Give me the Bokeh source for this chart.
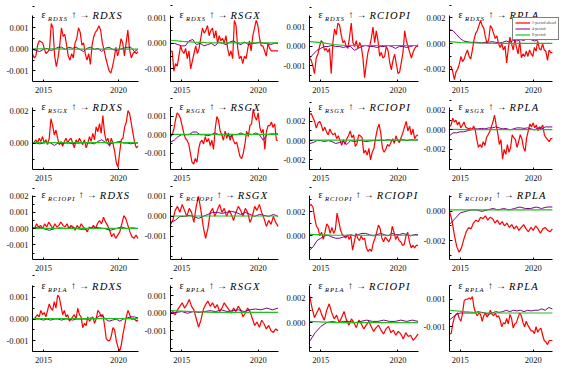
import numpy as np
from bokeh.plotting import figure
from bokeh.layouts import gridplot
from bokeh.models import Range1d, FixedTicker, NumeralTickFormatter, Label, Legend, LegendItem
from bokeh.embed import file_html
from bokeh.resources import INLINE

variables = ["RDXS", "RSGX", "RCIOPI", "RPLA"]
legend_labels = ["1-period ahead", "4-period", "8-period"]
x_tick_labels = [2015, 2020]
date_start, date_end = 2014.27, 2021.30

# values in units of 1e-3 ; row = shock, column = response
red11 = [-0.2,-0.4,-0.3,0.2,0.4,0.35,0.3,0.0,-0.2,-0.1,0.0,1.2,1.0,-0.3,-0.8,-0.4,0.2,1.0,0.6,0.7,0.2,-0.3,-0.5,-0.2,-0.4,0.3,0.5,1.0,0.8,0.2,0.3,-0.2,-0.5,-0.2,-0.7,0.2,0.6,0.8,0.9,1.1,0.9,0.3,0.0,-0.4,-0.7,-1.0,-1.1,-0.8,-0.4,0.1,-0.3,0.0,0.5,0.3,-0.3,0.3,0.9,0.0,-0.4,-0.2,-0.1,-0.2,-0.1]
pur11 = [0.0,-0.05,-0.1,0.0,0.05,-0.05,0.0,0.1,0.1,0.0,0.1,0.05,0.1,0.0,-0.1,0.05,0.1,0.0,0.05,-0.1,0.05,0.1,0.0,-0.05,0.0,0.05,0.1,0.1,-0.1,0.0]
grn11 = [0.03,0.02,0.02,0.01,0.01,0.01,0.01,0.01,0.01,0.01]

red12 = [-0.33,-0.3,-1.1,-0.8,-0.9,-0.5,-0.1,-0.3,-0.4,-0.2,-0.6,-0.3,-1.0,-0.7,-0.4,-0.1,-0.4,-0.2,0.2,0.6,0.4,0.5,0.7,0.3,0.5,0.6,0.2,0.5,0.0,0.3,0.1,0.2,0.0,0.3,-0.2,-0.5,-0.3,-0.6,0.9,0.7,-0.2,-0.6,-0.5,-0.8,-0.5,-0.6,-0.2,0.1,-0.3,0.3,0.6,0.9,0.7,0.2,-0.1,-0.1,-0.3,-0.5,0.0,-0.2,-0.3,-0.3,-0.3,-0.3,-0.3]
pur12 = [0.0,0.0,-0.05,-0.1,-0.1,0.1,0.15,-0.05,0.0,-0.1,-0.05,0.0,-0.1,0.05,0.0,-0.05,0.05,0.1,0.0,-0.05,0.05,-0.05,0.0,0.0,0.05,0.0,0.0,-0.05,0.0,0.0]
grn12 = [0.12,0.08,0.05,0.03,0.02,0.02,0.02,0.02,0.02,0.02]

red13 = [-0.6,-0.7,-1.0,-1.4,-0.6,-0.4,0.0,0.3,0.2,-0.2,-0.1,-0.3,-0.1,-1.4,0.2,0.9,0.6,1.2,1.1,0.6,0.2,0.3,0.0,-0.1,0.5,1.2,0.2,0.0,0.3,-0.1,0.2,0.0,-0.6,-1.6,-0.9,-0.3,0.0,0.4,1.0,0.2,0.8,0.3,-0.5,-0.3,-0.6,-0.5,0.0,-0.2,-0.8,-1.2,-0.7,-0.4,-0.9,-1.4,-1.3,-0.8,-0.3,0.8,0.3,0.0,-0.3,-0.6,-0.3,-0.1,0.0,0.1]
pur13 = [-0.6,-0.4,-0.2,-0.1,0.0,0.0,0.05,0.0,0.0,-0.05,0.0,0.0,-0.2,-0.1,0.0,0.05,0.0,0.0,-0.05,0.0,0.0,0.05,0.0,-0.1,0.0,0.0,-0.05,0.0,0.05,0.0]
grn13 = [0.25,0.2,0.1,0.05,0.05,0.05,0.05,0.05,0.05,0.05]

red14 = [-1.8,-1.8,-2.2,-2.8,-2.2,-2.0,-1.6,-1.0,-1.4,-1.2,-0.8,-0.5,-1.0,-1.2,-0.5,0.3,0.8,1.0,1.4,1.8,1.4,1.2,0.5,0.0,0.3,1.4,1.2,0.8,0.4,0.6,0.0,-0.3,0.0,-0.5,-0.2,-1.5,-0.4,0.5,0.0,-0.5,0.3,-0.3,-0.8,0.2,-1.1,-0.8,-1.0,-0.6,-1.0,-0.5,-0.8,-1.0,-0.3,-0.6,0.2,-0.4,-0.5,0.0,-0.5,-0.6,-1.3,-0.5,-0.7,-0.7]
pur14 = [1.1,1.0,0.7,0.4,0.2,0.15,0.1,0.1,0.1,0.05,0.1,0.1,0.15,0.1,0.05,0.1,0.2,0.1,0.25,0.2,0.3,0.25,0.4,0.3,0.2,0.3,0.4,0.3,0.35,0.5]
grn14 = [0.15,0.08,0.05,0.03,0.02,0.02,0.02,0.02,0.02,0.02]

red21 = [0.0,0.05,0.2,0.0,0.3,0.1,0.4,0.0,0.2,-0.1,0.3,1.5,1.1,0.5,0.8,0.3,-0.1,0.1,-0.2,0.1,0.3,0.0,0.2,0.3,0.0,-0.3,0.2,0.0,0.3,0.1,-0.1,0.2,-0.3,0.0,0.4,0.1,0.6,0.2,1.0,0.7,1.2,0.6,1.7,0.6,0.1,0.3,-0.2,0.3,0.0,-0.5,-1.2,-1.5,-0.6,0.2,0.3,1.0,1.3,2.0,1.8,1.2,0.6,0.0,-0.3,-0.2]
pur21 = [0.0,0.0,-0.05,0.0,0.05,0.0,-0.15,0.0,-0.05,0.0,0.0,-0.05,0.0,0.0,0.05,0.0,0.0,-0.05,0.1,0.2,0.05,-0.1,0.0,0.05,0.1,0.0,0.0,-0.05,0.0,0.0]
grn21 = [0.03,0.03,0.03,0.03,0.03,0.03]

red22 = [-0.1,0.0,0.3,0.8,1.2,1.1,0.9,0.5,0.1,-0.2,-0.3,-0.5,-1.0,-1.5,-1.6,-1.3,-1.5,-0.8,-0.4,-0.3,-0.5,-0.1,-0.4,-0.2,-0.6,-0.3,-0.8,0.3,1.0,0.8,0.2,0.0,-0.3,0.2,-0.2,0.1,-0.3,0.0,-0.3,-0.5,-0.4,-0.8,-1.2,-1.3,-1.0,-0.5,0.2,-0.1,0.5,0.6,1.4,1.0,0.8,1.2,0.4,0.1,0.3,-0.8,0.2,0.5,0.5,0.7,0.4,0.6,-0.3,-0.3]
pur22 = [-0.4,-0.3,-0.1,0.0,0.0,0.0,0.15,0.15,0.0,0.0,-0.05,0.0,0.1,0.0,0.0,0.05,-0.1,0.0,0.0,0.1,0.0,0.05,0.0,0.1,0.0,-0.3,0.0,0.05,0.05,0.05]
grn22 = [0.02,0.02,0.02,0.02,0.02,0.02]

red23 = [2.7,2.8,2.4,2.0,1.3,1.8,2.0,1.6,1.0,1.4,0.9,0.6,1.2,0.8,0.6,0.8,0.2,0.5,0.0,-0.5,0.1,-0.4,0.2,0.5,1.0,0.3,0.6,-0.6,-0.3,0.6,0.5,0.3,-1.3,-1.0,-1.5,-0.8,-2.0,-1.2,-0.8,0.3,1.2,1.7,0.8,-0.8,-1.2,-0.9,-0.4,-0.6,-0.2,0.2,-0.3,0.5,0.0,-0.2,0.3,0.8,1.4,2.0,1.0,1.5,0.6,1.2,0.2,0.5,0.6]
pur23 = [-0.3,-0.2,0.0,0.0,-0.1,0.0,-0.1,-0.3,-0.2,-0.1,-0.4,0.0,-0.1,0.0,0.0,-0.1,-0.05,0.0,0.0,0.05,0.0,0.1,0.0,0.0,0.05,0.1,0.0,0.1,0.05,0.1]
grn23 = [0.05,0.05,0.05,0.05,0.05,0.05]

red24 = [0.3,0.5,1.2,0.8,1.0,0.5,0.8,0.2,0.5,0.8,0.3,0.2,0.1,0.2,0.0,0.4,0.0,-1.0,-1.8,-1.5,-1.8,-1.2,-1.6,-0.8,-0.5,-0.2,0.3,0.8,1.5,0.5,-0.3,-1.5,-1.0,-3.0,-2.0,-2.5,-1.5,-2.3,-1.8,-0.5,-0.8,-1.0,-1.8,-1.2,-0.5,-0.9,-1.8,-2.2,-0.8,-0.1,0.6,0.3,0.7,0.2,0.5,-0.1,0.3,0.2,0.5,-0.5,-0.8,-1.0,-1.2,-0.9,-0.9]
pur24 = [-0.6,-0.3,-0.3,-0.2,-0.2,-0.1,0.0,0.1,0.1,0.15,0.1,0.2,0.2,0.3,0.2,0.1,0.15,0.0,0.1,0.2,0.2,0.15,0.2,0.1,0.0,0.2,0.1,0.3,0.3,0.3]
grn24 = [0.05,0.03,0.02,0.02,0.02,0.02]

red31 = [0.1,0.0,0.3,0.1,0.2,0.0,0.3,0.1,0.4,0.2,0.0,0.3,0.1,0.2,0.4,0.2,0.1,0.3,0.0,0.2,0.1,-0.1,0.2,0.0,0.3,0.1,0.0,-0.2,0.1,0.0,0.2,0.0,0.3,0.5,0.3,0.7,0.4,0.2,-0.1,-0.5,-0.3,-0.6,-0.4,-0.2,0.3,0.8,0.6,0.2,-0.2,-0.5,-0.6,-0.4,-0.6]
pur31 = [0.0,0.1,0.0,-0.1,0.0,0.05,0.0,0.1,0.0,-0.05,0.0,0.1,0.05,0.0,-0.1,0.0,0.1,0.0,0.05,0.0]
grn31 = [0.02,0.02,0.02,0.02,0.02]

red32 = [-0.4,-0.2,0.3,0.5,0.2,0.6,0.3,0.0,0.4,0.2,-0.3,0.5,1.0,0.3,-0.5,-1.1,-0.6,0.2,0.4,0.0,0.3,0.6,0.2,0.4,0.0,0.3,0.1,-0.2,0.2,0.5,0.3,0.0,0.4,0.2,-0.3,0.0,0.5,0.3,0.6,0.2,-0.1,-0.5,-0.2,-0.4,0.0,-0.3,-0.5]
pur32 = [-0.3,-0.2,0.0,0.0,0.05,0.0,-0.1,0.0,0.1,0.2,0.2,0.15,0.2,0.25,0.2,0.1,0.2,0.1,0.0,0.1,0.05,0.0,0.1,0.0]
grn32 = [0.02,0.02,0.02,0.02,0.02]

red33 = [2.5,2.6,2.4,1.5,0.8,0.6,0.0,0.3,-0.3,0.3,1.0,0.8,0.2,0.7,0.2,0.5,1.9,1.2,0.5,0.1,0.0,-0.2,0.1,-0.3,0.0,-1.2,-0.5,0.2,-0.2,-0.4,0.0,-0.3,-0.2,-1.0,-1.3,-1.1,-1.3,-0.6,-0.2,0.3,0.9,0.6,-0.2,-0.5,-0.1,-0.3,-0.5,-0.2,0.8,0.3,-0.3,0.0,-0.4,-0.5,-0.8,-0.7,0.0,0.3,-0.5,-1.0,-0.8,-1.0,-0.8,-0.8]
pur33 = [-1.2,-0.9,-0.4,-0.2,0.0,0.05,-0.1,-0.2,-0.2,-0.1,0.0,0.1,0.0,0.1,0.2,0.2,0.1,0.0,0.1,0.2,0.1,0.0,0.2,0.1,0.1,0.2,0.1,0.0,0.1,0.1]
grn33 = [0.12,0.06,0.05,0.05,0.05,0.05]

red34 = [0.0,-0.6,-1.6,-2.4,-2.8,-2.5,-1.9,-1.4,-1.1,-1.2,-0.8,-0.6,-0.7,-0.4,-0.5,-0.3,-0.6,-0.4,-0.5,-0.8,-0.6,-0.9,-0.7,-1.0,-0.8,-1.1,-0.9,-1.2,-1.0,-1.3,-1.1,-0.9,-1.2,-1.4,-1.1,-1.3,-1.0,-1.2,-1.5,-1.2,-1.1,-1.3,-1.4,-1.2]
pur34 = [-0.9,-0.5,-0.1,0.0,0.1,0.1,0.0,0.1,0.2,0.1,0.2,0.1,0.2,0.3,0.2,0.2,0.3,0.2,0.3,0.3]
grn34 = [0.1,0.1,0.1,0.1,0.1]

red41 = [0.0,0.0,0.1,0.2,0.1,0.4,0.2,0.3,0.1,0.4,0.7,0.5,0.4,0.8,0.5,1.1,1.0,0.6,0.2,0.4,0.1,0.2,-0.1,0.0,0.1,0.2,0.0,0.5,0.2,0.1,-0.4,-0.2,-0.3,0.1,-0.1,0.0,0.1,-0.2,0.0,0.4,0.3,0.1,0.2,-0.3,-0.9,-1.0,-1.0,-0.8,-0.4,-0.5,-1.0,-1.3,-1.5,-1.2,-0.7,-0.3,0.1,0.4,0.2,0.0,0.0,0.0,-0.1,-0.05]
pur41 = [0.0,0.0,0.0,-0.05,0.0,-0.05,0.0,0.0,-0.05,0.0,0.0,-0.05,0.0,0.0,0.0,0.0,0.05,0.0,0.1,0.2,0.0,-0.1,-0.05,0.0,-0.1,0.0,0.05,0.1,0.1,0.05]
grn41 = [0.02,0.02,0.02,0.02,0.02]

red42 = [0.0,0.1,-0.1,0.2,0.4,0.6,0.3,0.5,0.8,0.4,0.2,-0.3,-0.8,-0.4,0.2,0.5,0.7,0.4,0.6,0.3,0.5,0.1,0.3,0.6,0.4,0.2,0.0,0.3,0.1,0.4,0.2,-0.2,0.0,0.3,0.1,-0.3,-0.7,-0.5,-0.8,-0.4,-0.6,-0.9,-0.7,-1.0,-1.1,-0.9,-1.0]
pur42 = [0.0,0.05,0.1,0.0,0.1,0.05,0.1,0.15,0.1,0.2,0.1,0.15,0.2,0.1,0.2,0.25,0.2,0.3,0.2,0.3]
grn42 = [0.15,0.1,0.05,0.05,0.05,0.05]

red43 = [2.2,1.2,0.4,0.8,1.2,0.6,0.2,1.0,1.5,0.8,0.3,0.6,0.0,0.4,0.9,0.2,-0.2,0.3,0.0,-0.4,0.2,-0.1,-0.5,-0.2,0.1,-0.3,-0.7,-0.4,-0.2,-0.6,-0.9,-0.5,-0.3,-0.8,-0.6,-1.0,-0.7,-0.9,-1.3,-0.8,-1.1,-1.0,-1.4,-1.2,-0.9]
pur43 = [-1.5,-0.8,-0.3,0.0,0.1,0.0,0.1,0.1,0.0,0.1,0.2,0.1,0.1,0.2,0.1,0.1,0.2,0.1,0.2,0.1]
grn43 = [0.1,0.0,0.0,0.0,0.0]

red44 = [-1.5,-1.5,-0.8,-0.3,-0.1,0.0,-0.4,-0.6,0.0,0.9,1.0,1.0,1.1,1.0,1.2,0.4,0.0,-0.2,0.0,-0.1,-0.6,-0.2,0.0,-0.3,-0.1,0.2,-0.1,-0.2,0.0,-0.3,-0.2,-0.5,-1.0,-0.7,-0.8,-0.4,-0.8,-0.1,-0.4,-1.1,-0.8,-0.7,-0.3,0.0,-0.2,-0.7,-1.0,-0.6,-0.9,-1.1,-1.3,-1.3,-1.5,-1.0,-1.4,-1.2,-1.1,-1.6,-2.0,-2.1,-2.3,-2.0,-2.0,-2.0]
pur44 = [-0.5,-0.3,-0.1,0.0,0.0,0.0,0.0,0.0,0.1,0.05,0.0,-0.1,0.0,0.1,0.05,0.1,0.2,0.1,0.2,0.15,0.2,0.1,0.2,0.15,0.2,0.2,0.3,0.2,0.4,0.3]
grn44 = [0.2,0.1,0.02,0.0,0.0,0.0,0.0,0.0]

reds = [[red11, red12, red13, red14], [red21, red22, red23, red24],
        [red31, red32, red33, red34], [red41, red42, red43, red44]]
purs = [[pur11, pur12, pur13, pur14], [pur21, pur22, pur23, pur24],
        [pur31, pur32, pur33, pur34], [pur41, pur42, pur43, pur44]]
grns = [[grn11, grn12, grn13, grn14], [grn21, grn22, grn23, grn24],
        [grn31, grn32, grn33, grn34], [grn41, grn42, grn43, grn44]]

# y-axis tick labels (units of 1e-3) per panel
yticks = [[[1, 0, -1], [1, 0, -1], [1, 0, -1], [2, 0, -2]],
          [[2, 0], [1, 0, -1], [2, 0, -2], [2, 0, -2]],
          [[2, 1, 0, -1], [1, 0, -1], [2, 0], [0, -2]],
          [[1, 0, -1], [1, 0, -1], [2, 0], [1, -1]]]

# ---------------- layout / style (not data) ----------------
ylims = [[(-1.49, 1.58), (-1.5, 1.1), (-1.8, 1.6), (-2.95, 2.2)],
         [(-1.63, 2.2), (-1.9, 1.5), (-3.0, 3.45), (-4.05, 2.3)],
         [(-1.9, 2.05), (-2.15, 1.05), (-1.97, 3.37), (-3.3, 1.1)],
         [(-1.5, 1.55), (-2.2, 1.6), (-2.3, 2.96), (-2.8, 2.0)]]
XR0, XR1 = 2014.27, 2021.33
row_h = [95, 88, 90, 100]
bt = [15, 12, 12, 12]      # distance from figure top to top of axis line
bb = [13, 13, 13, 22]
col_w = [140, 140, 140, 143]
bl = [32, 30, 27, 25]
br = [2, 2, 2, 11]         # distance from data-area right edge to figure right
TOP_BORDER, RIGHT_BORDER = 1, 1
SERIF = "Liberation Serif"
RED, PURPLE, GREEN = "#ff0000", "#800080", "#1fbf1f"
W_IT = {"R": .611, "D": .722, "X": .611, "S": .5, "G": .722, "C": .667,
        "I": .333, "O": .722, "P": .611, "L": .556, "A": .611}


def lab(p, x, y, text, size, style="normal"):
    p.add_layout(Label(x=x, y=y, x_units="screen", y_units="screen", text=text,
                       text_font=SERIF, text_font_size=f"{size}px",
                       text_font_style=style, text_baseline="alphabetic",
                       text_color="black"))


def add_title(p, fh, sub, main):
    x = 9.0
    lab(p, x, fh, "ε", 10)
    x += 6.5
    for ch in sub:
        lab(p, x, fh - 3.5, ch, 6.5, "italic")
        x += W_IT[ch] * 6.5 + 1.0
    x += 3.5
    lab(p, x, fh, "↑", 10)
    x += 8
    lab(p, x, fh, "→", 10)
    x += 13
    for ch in main:
        lab(p, x, fh - 0.5, ch, 10.5, "italic")
        x += W_IT[ch] * 10.5 + 1.2


rows = []
for i in range(4):
    row = []
    for j in range(4):
        lo, hi = ylims[i][j]
        fh = row_h[i] - bt[i] - bb[i]                 # data-area height
        fw = col_w[j] - bl[j] - br[j]                 # data-area width
        hi_ext = hi + (bt[i] - TOP_BORDER) * (hi - lo) / fh
        xr1_ext = XR1 + (br[j] - RIGHT_BORDER) * (XR1 - XR0) / fw
        p = figure(width=col_w[j], height=row_h[i], output_backend="svg",
                   toolbar_location=None,
                   x_range=Range1d(XR0, xr1_ext),
                   y_range=Range1d(lo * 1e-3, hi_ext * 1e-3),
                   min_border_left=bl[j], min_border_right=RIGHT_BORDER,
                   min_border_top=TOP_BORDER, min_border_bottom=bb[i])
        p.outline_line_color = None
        p.grid.visible = False
        p.background_fill_color = "white"
        p.border_fill_color = "white"

        r = np.array(reds[i][j]) * 1e-3
        pu = np.array(purs[i][j]) * 1e-3
        g = np.array(grns[i][j]) * 1e-3
        rr = p.line(np.linspace(date_start, date_end, len(r)), r, line_color=RED, line_width=1.2)
        rp = p.line(np.linspace(date_start, date_end, len(pu)), pu, line_color=PURPLE, line_width=1.0)
        rg = p.line(np.linspace(date_start, date_end, len(g)), g, line_color=GREEN, line_width=1.2)

        tk = [t * 1e-3 for t in yticks[i][j]]
        step = min(abs(a - b) for a, b in zip(yticks[i][j][:-1], yticks[i][j][1:]))
        minors = [k * 0.5e-3 * step for k in range(-10, 11)]
        p.yaxis.ticker = FixedTicker(ticks=tk, minor_ticks=minors)
        p.yaxis.formatter = NumeralTickFormatter(format="0.000")
        p.yaxis.bounds = (lo * 1e-3, hi * 1e-3)
        p.xaxis.ticker = FixedTicker(ticks=x_tick_labels, minor_ticks=[])
        p.xaxis.bounds = (XR0, XR1)
        for ax in (p.xaxis[0], p.yaxis[0]):
            ax.axis_line_color = "black"
            ax.axis_line_width = 1
            ax.major_tick_line_color = "black"
            ax.minor_tick_line_color = "black"
            ax.major_label_text_font = SERIF
            ax.major_label_text_font_size = "8.5px"
            ax.major_label_text_color = "#111111"
        p.yaxis.major_tick_in = 3
        p.yaxis.major_tick_out = 0
        p.yaxis.minor_tick_in = 2
        p.yaxis.minor_tick_out = 0
        p.yaxis.major_label_standoff = 4
        p.xaxis.major_tick_in = 2
        p.xaxis.major_tick_out = 0
        p.xaxis.minor_tick_in = 0
        p.xaxis.minor_tick_out = 0
        p.xaxis.major_label_standoff = 5

        if i == 0 and j == 3:
            leg = Legend(items=[LegendItem(label=legend_labels[0], renderers=[rr]),
                                LegendItem(label=legend_labels[1], renderers=[rp]),
                                LegendItem(label=legend_labels[2], renderers=[rg])],
                         location=(63, 41))
            leg.label_text_font = SERIF
            leg.label_text_font_size = "4px"
            leg.glyph_width = 15
            leg.glyph_height = 5
            leg.label_height = 5
            leg.label_standoff = 2
            leg.spacing = 1
            leg.padding = 2
            leg.margin = 0
            leg.border_line_color = "black"
            leg.border_line_width = 1
            leg.background_fill_color = "white"
            leg.background_fill_alpha = 1
            p.add_layout(leg)

        add_title(p, fh, variables[i], variables[j])
        row.append(p)
    rows.append(row)

grid = gridplot(rows, toolbar_location=None)
open("out.html", "w").write(file_html(grid, INLINE))
